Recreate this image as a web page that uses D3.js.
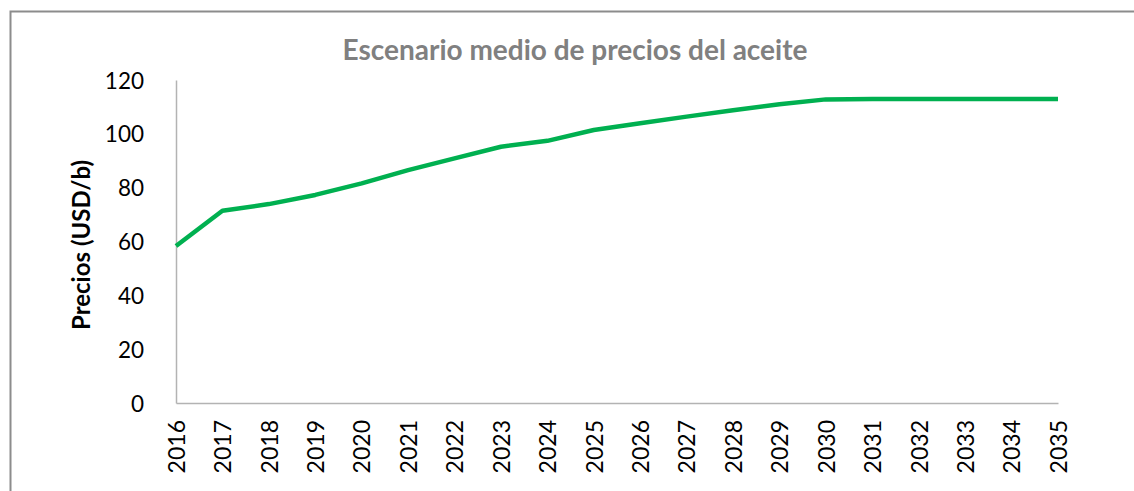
<!DOCTYPE html>
<html>
<head>
<meta charset="utf-8">
<script src="https://cdn.jsdelivr.net/npm/d3@7"></script>
<style>
  html, body { margin: 0; padding: 0; background: #ffffff; }
  svg { display: block; }
</style>
</head>
<body>
<svg id="chart" width="1134" height="491"></svg>
<script>
// Years on the category axis
const years = ["2016","2017","2018","2019","2020","2021","2022","2023","2024","2025",
               "2026","2027","2028","2029","2030","2031","2032","2033","2034","2035"];
// Oil price, medium scenario (USD per barrel)
const prices = [58.3, 71.4, 73.9, 77.3, 81.6, 86.5, 90.9, 95.2, 97.4, 101.4,
                103.9, 106.4, 108.8, 111.0, 112.8, 112.9, 112.9, 112.9, 112.9, 112.9];
// Value axis ticks
const yTicks = [0, 20, 40, 60, 80, 100, 120];

const titleText = "Escenario medio de precios del aceite";
const yLabelText = "Precios (USD/b)";

const svg = d3.select("#chart");
const W = 1134, H = 491;
const font = "Lato, 'Liberation Sans', Arial, sans-serif";

// outer frame of the chart area
svg.append("rect")
  .attr("x", 10.5).attr("y", 11.5)
  .attr("width", W + 20).attr("height", H + 20)
  .attr("fill", "#ffffff")
  .attr("stroke", "#8c8c8c")
  .attr("stroke-width", 2);

const plot = { left: 176, right: 1058, top: 80, bottom: 403 };

const x = d3.scalePoint().domain(years).range([plot.left, plot.right]);
const y = d3.scaleLinear().domain([0, 120]).range([plot.bottom, plot.top]);

// title
svg.append("text")
  .attr("x", 575).attr("y", 60)
  .attr("text-anchor", "middle")
  .attr("font-family", font)
  .attr("font-weight", "bold")
  .attr("font-size", 28)
  .attr("fill", "#808080")
  .text(titleText);

// y axis
const yAxis = d3.axisLeft(y).tickValues(yTicks).tickSize(0).tickPadding(0);
const gy = svg.append("g")
  .attr("transform", `translate(${plot.left},0)`)
  .call(yAxis);
gy.select(".domain").attr("stroke", "#b3b3b3").attr("stroke-width", 1.5);
gy.selectAll("text")
  .attr("x", -32)
  .attr("dy", "0.36em")
  .attr("font-family", font)
  .attr("font-size", 22.5)
  .attr("fill", "#000000");

// x axis
const xAxis = d3.axisBottom(x).tickSize(0).tickPadding(0);
const gx = svg.append("g")
  .attr("transform", `translate(0,${plot.bottom})`)
  .call(xAxis);
gx.select(".domain").attr("stroke", "#b3b3b3").attr("stroke-width", 1.5);
gx.selectAll("text")
  .attr("transform", "rotate(-90)")
  .attr("x", -17)
  .attr("y", 0)
  .attr("dy", "0.36em")
  .attr("text-anchor", "end")
  .attr("font-family", font)
  .attr("font-size", 23)
  .attr("fill", "#000000");

// y axis title
svg.append("text")
  .attr("transform", `translate(90,245) rotate(-90)`)
  .attr("text-anchor", "middle")
  .attr("font-family", font)
  .attr("font-weight", "bold")
  .attr("font-size", 24)
  .attr("fill", "#000000")
  .text(yLabelText);

// price line
const line = d3.line()
  .x((d, i) => x(years[i]))
  .y(d => y(d));

svg.append("path")
  .datum(prices)
  .attr("d", line)
  .attr("fill", "none")
  .attr("stroke", "#00b050")
  .attr("stroke-width", 4.5)
  .attr("stroke-linejoin", "round");
</script>
</body>
</html>
